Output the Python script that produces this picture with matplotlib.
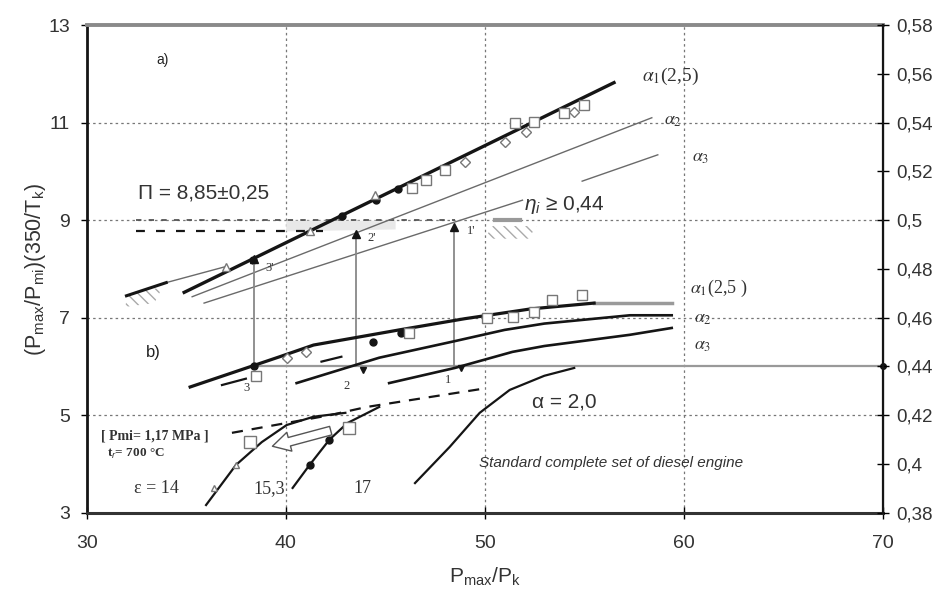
import numpy as np
import matplotlib.pyplot as plt
from matplotlib.patches import FancyArrowPatch

plt.rcParams['font.family'] = ['Liberation Sans', 'DejaVu Sans']
plt.rcParams['mathtext.fontset'] = 'custom'
plt.rcParams['mathtext.rm'] = 'Liberation Sans'
plt.rcParams['mathtext.it'] = 'Liberation Sans:italic'

nan = np.nan

# ---- a) upper group: straight lines
a_alpha1_x = [34.9, 56.5]
a_alpha1_y = [7.52, 11.82]
a_lead_x = [32.0, 34.0]
a_lead_y = [7.45, 7.72]
a_lead_thin_x = [34.0, 37.0]
a_lead_thin_y = [7.72, 8.05]
a_alpha2_x = [35.3, 58.4]
a_alpha2_y = [7.43, 11.1]
a_alpha3_x = [35.9, 51.9, nan, 54.9, 58.7]
a_alpha3_y = [7.3, 9.41, nan, 9.8, 10.34]

a_dot_x = [38.34, 42.81, 44.52, 45.63]
a_dot_y = [8.18, 9.09, 9.41, 9.64]
a_sq_x = [46.33, 47.04, 47.99, 51.5, 52.5, 54.0, 55.0]
a_sq_y = [9.66, 9.82, 10.03, 11.0, 11.01, 11.2, 11.36]
a_dia_x = [49.0, 51.0, 52.1, 54.5]
a_dia_y = [10.19, 10.6, 10.81, 11.22]
a_tri_x = [37.0, 41.2, 44.47]
a_tri_y = [8.04, 8.78, 9.52]

# Pi band
pi_upper_x = [32.5, 48.5]
pi_upper_y = [9.0, 9.0]
pi_lower_x = [32.5, 41.9]
pi_lower_y = [8.78, 8.78]
band_x = [40.0, 45.5]
band_lo = [8.78, 8.82]
band_hi = [9.0, 9.0]
grey_seg_x = [50.5, 51.8]
grey_seg_y = [9.0, 9.0]
hatch1_x = [50.4, 52.6, 52.2, 50.0]
hatch1_y = [8.88, 8.88, 8.62, 8.62]
hatch2_x = [32.2, 33.8, 33.4, 31.9]
hatch2_y = [7.52, 7.62, 7.3, 7.22]

# vertical transfer arrows (1,2,3 -> 1',2',3')
arr_x = [38.4, 43.55, 48.45]
arr_y0 = [6.0, 6.0, 6.0]
arr_y1 = [8.2, 8.72, 8.86]
arr_lbl = ['3', '2', '1']
arr_lbl_x = [37.9, 42.9, 48.0]
arr_lbl_y = [5.5, 5.54, 5.66]
arr_top_lbl = ["3'", "2'", "1'"]
arr_top_x = [39.0, 44.1, 49.1]
arr_top_y = [7.95, 8.58, 8.72]

# eta = 0.44 level
eta_x = [38.4, 70.0]
eta_y = [6.0, 6.0]

# ---- b) middle group
b_alpha1_x = [35.2, 39.7, 41.4, 45.7, 49.0, 52.3, 55.5]
b_alpha1_y = [5.58, 6.2, 6.44, 6.75, 6.98, 7.18, 7.3]
b_tail_x = [55.5, 59.4]
b_tail_y = [7.3, 7.3]
b_alpha2_x = [40.55, 44.7, 48.5, 51.0, 53.0, 57.3, 59.4]
b_alpha2_y = [5.66, 6.18, 6.52, 6.75, 6.88, 7.05, 7.05]
b_alpha3_x = [45.2, 48.5, 51.4, 53.0, 57.3, 59.4]
b_alpha3_y = [5.66, 5.97, 6.3, 6.42, 6.65, 6.79]
b_dash_x = [36.8, 38.0, nan, 41.8, 42.8]
b_dash_y = [5.62, 5.75, nan, 6.1, 6.2]

b_dot_x = [38.4, 44.4, 45.8]
b_dot_y = [6.0, 6.5, 6.69]
b_sq_x = [38.5, 46.2, 50.1, 51.4, 52.5, 53.4, 54.9]
b_sq_y = [5.8, 6.69, 7.0, 7.02, 7.12, 7.36, 7.47]
b_open_x = [40.05, 41.0]
b_open_y = [6.18, 6.3]
b_tri_x = [43.9, 48.8]
b_tri_y = [5.93, 5.97]

# ---- c) lower group
c_eps14_x = [36.0, 37.5, 38.8, 40.05, 41.4, 43.0]
c_eps14_y = [3.16, 3.98, 4.45, 4.8, 4.97, 5.05]
c_eps153_x = [40.35, 41.2, 42.2, 43.1, 44.7]
c_eps153_y = [3.51, 3.98, 4.5, 4.84, 5.17]
c_eps17_x = [46.5, 48.24, 49.75, 51.26, 53.0, 54.5]
c_eps17_y = [3.61, 4.35, 5.05, 5.52, 5.81, 5.97]
c_a20_x = [37.3, 42.2, 44.07, 50.0]
c_a20_y = [4.64, 5.0, 5.17, 5.55]
c_dot_x = [41.2, 42.2]
c_dot_y = [3.98, 4.5]
c_sq_x = [38.2, 43.2]
c_sq_y = [4.45, 4.74]
c_tri_x = [36.4, 37.5]
c_tri_y = [3.5, 3.98]
open_arrow_tail = (42.4, 4.7)
open_arrow_tip = (39.2, 4.35)

right_ticks = [0.38, 0.40, 0.42, 0.44, 0.46, 0.48, 0.50, 0.52, 0.54, 0.56, 0.58]
right_labels = ['0,38', '0,4', '0,42', '0,44', '0,46', '0,48', '0,5', '0,52',
                '0,54', '0,56', '0,58']

fig = plt.figure(figsize=(9.42, 5.97), dpi=100)
ax = fig.add_axes([0.092, 0.141, 0.845, 0.817])
ax.set_xlim(30, 70)
ax.set_ylim(3, 13)
ax.set_xticks([30, 40, 50, 60, 70])
ax.set_yticks([3, 5, 7, 9, 11, 13])

for gx in [40, 50, 60]:
    ax.axvline(gx, color='#777', lw=0.9, ls=(0, (2, 2.5)), zorder=0)
for gy in [5, 7, 9, 11]:
    ax.axhline(gy, color='#777', lw=0.9, ls=(0, (2, 2.5)), zorder=0)

blk = '#151515'
thin = '#6a6a6a'

# a)
ax.fill_between(band_x, band_lo, band_hi, color='#e8e8e8', lw=0, zorder=1)
ax.fill(hatch1_x, hatch1_y, fill=False, hatch='\\\\\\', color='#aaa', lw=0)
ax.fill(hatch2_x, hatch2_y, fill=False, hatch='\\\\\\', color='#aaa', lw=0)
ax.plot(pi_upper_x, pi_upper_y, color='#555', lw=1.3, ls=(0, (3, 4)))
ax.plot(pi_lower_x, pi_lower_y, color=blk, lw=1.6, ls=(0, (4, 5)))
ax.plot(grey_seg_x, grey_seg_y, color='#999', lw=3)
ax.plot(a_alpha2_x, a_alpha2_y, color=thin, lw=1.0)
ax.plot(a_alpha3_x, a_alpha3_y, color=thin, lw=1.0)
ax.plot(a_lead_thin_x, a_lead_thin_y, color=thin, lw=1.0)
ax.plot(a_lead_x, a_lead_y, color=blk, lw=2.2)
ax.plot(a_alpha1_x, a_alpha1_y, color=blk, lw=2.4)
ax.plot(a_dot_x, a_dot_y, 'o', color=blk, ms=5)
ax.plot(a_sq_x, a_sq_y, 's', mfc='white', mec='#777', ms=7, mew=1)
ax.plot(a_dia_x, a_dia_y, 'D', mfc='white', mec='#777', ms=5, mew=1)
ax.plot(a_tri_x, a_tri_y, '^', mfc='white', mec='#777', ms=6, mew=1)

# transfer arrows
ax.plot(eta_x, eta_y, color='#999', lw=1.6)
ax.plot([eta_x[-1]], [eta_y[-1]], 'o', color=blk, ms=4, clip_on=False, zorder=5)
for x, y0, y1 in zip(arr_x, arr_y0, arr_y1):
    ax.plot([x, x], [y0, y1], color='#888', lw=1.3)
    ax.plot([x], [y1], '^', color=blk, ms=6)
for s, x, y in zip(arr_lbl, arr_lbl_x, arr_lbl_y):
    ax.text(x, y, s, fontsize=9, family='Liberation Serif', color='#333')
for s, x, y in zip(arr_top_lbl, arr_top_x, arr_top_y):
    ax.text(x, y, s, fontsize=9, family='Liberation Serif', color='#333')

# b)
ax.plot(b_tail_x, b_tail_y, color='#9a9a9a', lw=2.5)
ax.plot(b_alpha1_x, b_alpha1_y, color=blk, lw=2.3)
ax.plot(b_alpha2_x, b_alpha2_y, color=blk, lw=1.9)
ax.plot(b_alpha3_x, b_alpha3_y, color=blk, lw=1.9)
ax.plot(b_dash_x, b_dash_y, color=blk, lw=1.6)
ax.plot(b_dot_x, b_dot_y, 'o', color=blk, ms=5)
ax.plot(b_sq_x, b_sq_y, 's', mfc='white', mec='#777', ms=7, mew=1)
ax.plot(b_open_x, b_open_y, 'D', mfc='white', mec='#777', ms=5, mew=1)
ax.plot(b_tri_x, b_tri_y, 'v', color=blk, ms=5)

# c)
ax.plot(c_a20_x, c_a20_y, color=blk, lw=1.6, ls=(0, (5, 4)))
ax.plot(c_eps14_x, c_eps14_y, color=blk, lw=1.6)
ax.plot(c_eps153_x, c_eps153_y, color=blk, lw=1.6)
ax.plot(c_eps17_x, c_eps17_y, color=blk, lw=1.6)
ax.plot(c_dot_x, c_dot_y, 'o', color=blk, ms=5)
ax.plot(c_sq_x, c_sq_y, 's', mfc='white', mec='#777', ms=8, mew=1)
ax.plot(c_tri_x, c_tri_y, '^', mfc='white', mec='#777', ms=4, mew=1)
ax.add_patch(FancyArrowPatch(open_arrow_tail, open_arrow_tip,
                             arrowstyle='simple,head_width=1.0,head_length=0.9,tail_width=0.45',
                             mutation_scale=14, fc='white', ec='#555', lw=1, zorder=4))

# texts
ax.text(33.5, 12.2, 'a)', fontsize=10, color='#222')
ax.text(32.6, 9.45, 'Π = 8,85±0,25', fontsize=15, color='#333')
ax.text(52.0, 9.2, r'$\eta_{i}$ ≥ 0,44', fontsize=15, color='#333')
ax.text(57.9, 11.85, r'$\alpha_1$(2,5)', fontsize=14, family='Liberation Serif',
        math_fontfamily='stix', color='#333')
ax.text(59.0, 10.95, r'$\alpha_2$', fontsize=13, math_fontfamily='stix', color='#333')
ax.text(60.4, 10.2, r'$\alpha_3$', fontsize=13, math_fontfamily='stix', color='#333')
ax.text(60.3, 7.5, r'$\alpha_1$(2,5 )', fontsize=13, family='Liberation Serif',
        math_fontfamily='stix', color='#333')
ax.text(60.5, 6.9, r'$\alpha_2$', fontsize=13, math_fontfamily='stix', color='#333')
ax.text(60.5, 6.35, r'$\alpha_3$', fontsize=13, math_fontfamily='stix', color='#333')
ax.text(33.0, 6.2, 'b)', fontsize=12, color='#222')
ax.text(52.4, 5.15, 'α = 2,0', fontsize=15, color='#333')
ax.text(30.7, 4.5, '[ Pmi= 1,17 MPa ]', fontsize=10, family='Liberation Serif',
        weight='bold', color='#333')
ax.text(31.0, 4.15, r't$_{r}$= 700 °C', fontsize=9.5, family='Liberation Serif',
        weight='bold', color='#333')
ax.text(32.4, 3.4, 'ε = 14', fontsize=13, family='Liberation Serif', color='#333')
ax.text(38.4, 3.4, '15,3', fontsize=13, family='Liberation Serif', color='#333')
ax.text(43.4, 3.4, '17', fontsize=13, family='Liberation Serif', color='#333')
ax.text(49.7, 3.93, 'Standard complete set of diesel engine', fontsize=11,
        style='italic', color='#333')

# axes styling
ax.set_xlabel(r'P$_{\mathrm{max}}$/P$_{\mathrm{k}}$', fontsize=15, color='#333', labelpad=10)
ax.set_ylabel(r'(P$_{\mathrm{max}}$/P$_{\mathrm{mi}}$)(350/T$_{\mathrm{k}}$)', fontsize=15.5,
              color='#333', labelpad=0)
ax.tick_params(axis='x', direction='inout', length=8, width=1, pad=12,
               labelsize=14, labelcolor='#333')
ax.tick_params(axis='y', direction='out', length=4, width=1, pad=8,
               labelsize=14, labelcolor='#333')
ax.spines['top'].set_color('#8a8a8a')
ax.spines['top'].set_linewidth(2.8)
ax.spines['left'].set_linewidth(2.0)
ax.spines['left'].set_color(blk)
ax.spines['bottom'].set_linewidth(2.2)
ax.spines['bottom'].set_color('#333')

ax2 = ax.twinx()
ax2.set_ylim(0.38, 0.58)
ax2.set_yticks(right_ticks)
ax2.set_yticklabels(right_labels)
ax2.tick_params(axis='y', direction='inout', length=8, width=1, pad=6,
                labelsize=13.5, labelcolor='#333')
ax2.spines['right'].set_linewidth(1.6)
ax2.spines['right'].set_color(blk)
for s in ['top', 'left', 'bottom']:
    ax2.spines[s].set_visible(False)

fig.savefig('out.png', dpi=100)
